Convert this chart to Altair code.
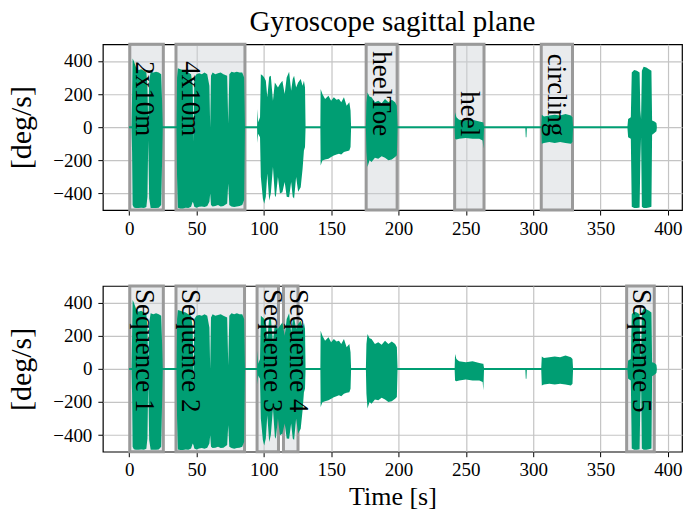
import altair as alt
import pandas as pd

# ---- signal envelope (time [s], upper, lower in deg/s) ----
time_s = [0.0, 1.8, 2.2, 2.6, 3.5, 5.0, 7.0, 9.0, 11.0, 12.8, 13.6, 14.2, 14.9, 16.0, 18.0, 20.0, 22.0, 23.8, 24.5, 25.0,
          35.2, 35.6, 36.2, 38.0, 40.0, 42.0, 44.0, 46.0, 47.2, 47.8, 48.4, 50.0, 52.0, 54.0, 56.0, 58.0, 59.6, 60.2,
          60.8, 62.0, 64.0, 66.0, 68.0, 70.0, 72.8, 73.6, 74.4, 76.0, 78.0, 80.0, 82.0, 84.0, 85.4, 86.0,
          95.0, 95.3, 95.8, 97.2, 97.8, 99.3, 100.3, 101.5, 102.6, 104.0, 105.2, 106.8, 108.2, 108.9, 110.5, 112.0,
          113.8, 115.5, 117.0, 118.8, 120.3, 121.5, 122.5, 124.0, 125.5, 127.4, 128.8, 129.8, 130.6, 131.0,
          142.0, 142.2, 143.5, 145.5, 148.0, 150.0, 152.0, 154.0, 155.8, 157.5, 159.5, 161.5, 163.5, 164.4, 164.8,
          175.8, 176.2, 177.0, 178.5, 180.0, 182.5, 185.0, 187.5, 190.0, 192.5, 195.0, 197.5, 198.8, 199.3,
          241.7, 242.0, 243.0, 245.0, 250.0, 255.0, 260.0, 262.5, 263.0, 263.5,
          294.2, 294.5, 295.0, 295.3,
          306.0, 306.4, 308.0, 312.0, 316.0, 320.0, 324.0, 328.0, 329.2, 329.6,
          370.0, 370.5, 372.5, 373.2, 375.0, 377.0, 379.0, 379.6, 380.1, 380.7, 382.0, 384.0, 386.0, 387.8, 388.3,
          390.0, 391.5, 391.8]
upper = [5, 5, 200, 415, 400, 365, 345, 350, 340, 330, 250, 30, 280, 335, 330, 335, 330, 320, 150, 5,
         5, 300, 355, 350, 345, 340, 330, 320, 250, -90, 300, 320, 325, 320, 330, 320, 250, 0,
         310, 330, 320, 325, 330, 320, 310, 20, 320, 335, 330, 335, 330, 330, 300, 5,
         5, 110, 30, 60, 320, 310, 300, 280, 180, 305, 310, 160, 270, 260, 240, 260,
         280, 200, 300, 335, 220, 290, 310, 240, 270, 290, 250, 280, 240, 5,
         5, 230, 200, 170, 190, 160, 180, 165, 170, 150, 180, 130, 150, 100, 5,
         5, 150, 210, 185, 180, 150, 160, 145, 170, 150, 165, 150, 130, 5,
         5, 90, 60, 45, 40, 45, 35, 30, 30, 5,
         5, 5, 5, 5,
         5, 75, 65, 70, 75, 70, 80, 70, 60, 5,
         5, 50, 60, 330, 345, 340, 330, 100, 50, 340, 365, 360, 350, 340, 40,
         35, 25, 5]
lower = [-7, -7, -150, -470, -485, -488, -488, -486, -488, -482, -420, -80, -430, -488, -488, -488, -486, -470, -200, -7,
         -7, -300, -486, -490, -490, -486, -488, -480, -450, -460, -480, -486, -480, -478, -482, -476, -450, -400,
         -470, -478, -476, -470, -478, -476, -460, -340, -470, -478, -482, -478, -476, -470, -440, -7,
         -7, -95, -40, -60, -300, -430, -462, -420, -280, -442, -400, -240, -410, -422, -300, -400,
         -392, -330, -420, -422, -330, -420, -430, -300, -390, -362, -250, -141, -120, -7,
         -7, -231, -201, -195, -190, -180, -171, -165, -160, -165, -150, -145, -141, -120, -7,
         -7, -150, -240, -200, -210, -185, -190, -175, -185, -200, -195, -180, -170, -7,
         -7, -70, -75, -70, -65, -70, -70, -80, -130, -7,
         -7, -60, -60, -7,
         -7, -100, -95, -90, -95, -90, -95, -100, -90, -7,
         -7, -60, -70, -480, -488, -488, -485, -200, -60, -480, -488, -488, -485, -480, -45,
         -35, -25, -7]

# ---- annotated spans ----
top_labels = ["2x10m", "4x10m", "heelToe", "heel", "circling"]
top_starts = [0.5, 34.8, 176.0, 241.7, 306.0]
top_ends = [25.4, 86.0, 199.0, 263.5, 329.2]

bottom_labels = ["Sequence 1", "Sequence 2", "Sequence 3", "Sequence 4", "Sequence 5"]
bottom_starts = [0.5, 34.8, 95.0, 114.6, 369.4]
bottom_ends = [25.4, 85.7, 110.9, 125.4, 389.9]

x_ticks = [0, 50, 100, 150, 200, 250, 300, 350, 400]
y_ticks = [-400, -200, 0, 200, 400]

FONT = "Liberation Serif"
GREEN = "#009E73"
W, H = 580, 166

sig = pd.DataFrame({"t": time_s, "hi": upper, "lo": lower})


def xenc(field, title):
    return alt.X(field, type="quantitative",
                 scale=alt.Scale(domain=[-19.5, 410.5], nice=False, zero=False),
                 axis=alt.Axis(values=x_ticks, title=title, format="d"))


def yenc(field):
    return alt.Y(field, type="quantitative",
                 scale=alt.Scale(domain=[-500, 500], nice=False, zero=False),
                 axis=alt.Axis(values=y_ticks, title="[deg/s]", format="d",
                               labelExpr="replace(datum.label, '-', '\u2212')"))


def panel(labels, starts, ends, xtitle, text_align, text_y, title=None):
    spans = pd.DataFrame({"label": labels, "start": starts, "end": ends})
    rects = alt.Chart(spans).mark_rect(
        fill="#cfd2d7", fillOpacity=0.45, stroke="#9a9a9a", strokeWidth=3
    ).encode(x=xenc("start", xtitle), x2="end:Q", y=alt.value(0), y2=alt.value(H))
    area = alt.Chart(sig).mark_area(color=GREEN, clip=True, opacity=1).encode(
        x=xenc("t", xtitle), y=yenc("hi"), y2="lo:Q")
    texts = alt.Chart(spans).mark_text(
        angle=90, align=text_align, baseline="alphabetic", dy=-6.5,
        font=FONT, fontSize=27, color="black"
    ).encode(x=xenc("start", xtitle), y=alt.value(text_y), text="label:N")
    props = dict(width=W, height=H)
    if title is not None:
        props["title"] = alt.TitleParams(title, font=FONT, fontSize=29, fontWeight="normal",
                                         color="black", offset=6, anchor="middle")
    return alt.layer(rects, area, texts).properties(**props)


top = panel(top_labels, top_starts, top_ends, None, "right", 92,
            title="Gyroscope sagittal plane")
bottom = panel(bottom_labels, bottom_starts, bottom_ends, "Time [s]", "left", 3)

chart = alt.vconcat(top, bottom, spacing=76, bounds="flush").properties(
    padding={"left": 6, "top": 6, "right": 0, "bottom": 0}
).configure_view(
    stroke="black", strokeWidth=1.2
).configure_axis(
    labelFont=FONT, labelFontSize=19, labelColor="black",
    titleFont=FONT, titleFontSize=26, titleColor="black", titleFontWeight="normal",
    tickColor="black", tickSize=5, tickWidth=1, domain=False,
    grid=True, gridColor="#c4c4c4", gridWidth=1.2,
).configure_axisX(labelPadding=4, titlePadding=4).configure_axisY(
    labelPadding=6, titlePadding=16, titleFontSize=30)

chart.save("out.html", embed_options={"renderer": "svg", "actions": False})
